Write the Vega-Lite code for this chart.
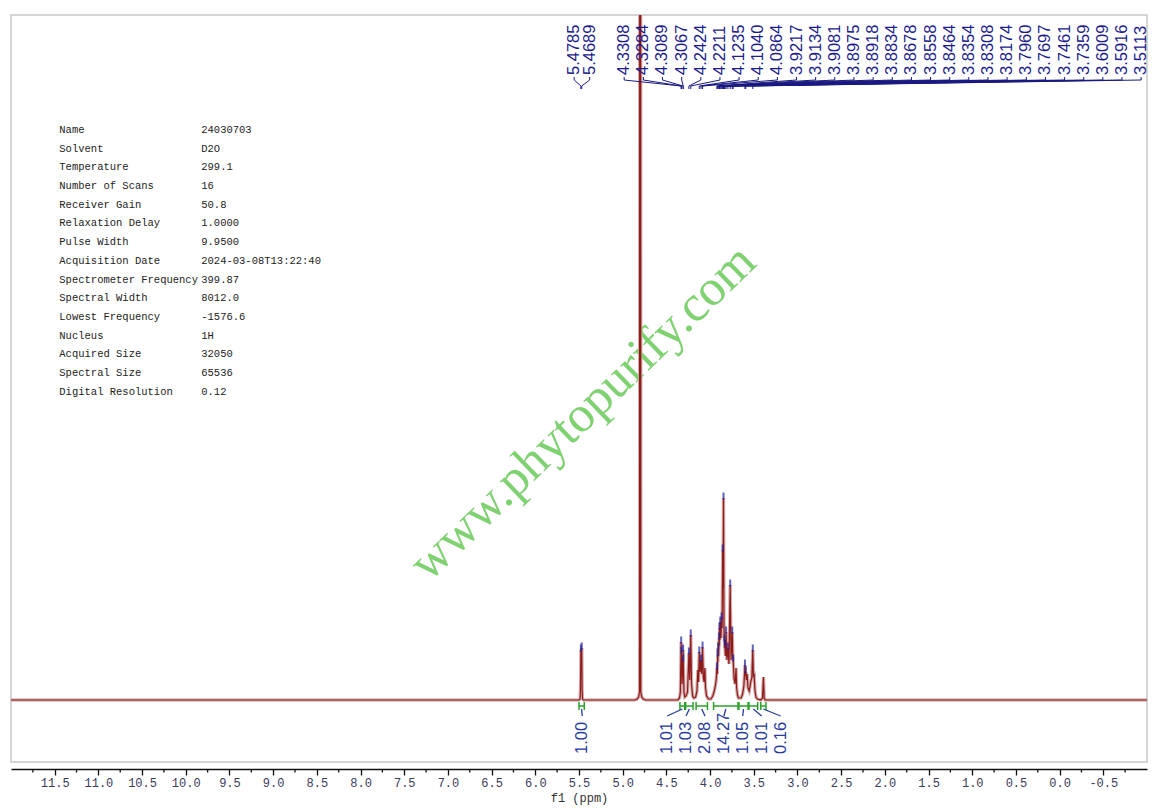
{
  "$schema": "https://vega.github.io/schema/vega-lite/v6.json",
  "width": 1136,
  "height": 747,
  "autosize": {"type": "none"},
  "padding": {"left": 11, "top": 15, "right": 13, "bottom": 49},
  "background": "white",
  "config": {
    "view": {"stroke": "#c8c8c8", "strokeWidth": 1.5}
  },
  "datasets": {
    "spec": [
      {"ppm": 12, "h": 0},
      {"ppm": 5.5, "h": 0}, {"ppm": 5.488, "h": 1}, {"ppm": 5.483, "h": 10}, {"ppm": 5.4785, "h": 50}, {"ppm": 5.4737, "h": 34}, {"ppm": 5.4689, "h": 52}, {"ppm": 5.4645, "h": 10}, {"ppm": 5.459, "h": 1}, {"ppm": 5.45, "h": 0},
      {"ppm": 4.86, "h": 0}, {"ppm": 4.835, "h": 1}, {"ppm": 4.818, "h": 3}, {"ppm": 4.807, "h": 8}, {"ppm": 4.8012, "h": 3000}, {"ppm": 4.7992, "h": 3000}, {"ppm": 4.793, "h": 8}, {"ppm": 4.782, "h": 3}, {"ppm": 4.765, "h": 1}, {"ppm": 4.74, "h": 0},
      {"ppm": 4.37, "h": 0}, {"ppm": 4.35, "h": 2}, {"ppm": 4.34, "h": 8}, {"ppm": 4.3308, "h": 58}, {"ppm": 4.3296, "h": 42}, {"ppm": 4.3284, "h": 48}, {"ppm": 4.32, "h": 16}, {"ppm": 4.3089, "h": 50}, {"ppm": 4.3078, "h": 36}, {"ppm": 4.3067, "h": 40}, {"ppm": 4.299, "h": 8}, {"ppm": 4.29, "h": 3},
      {"ppm": 4.275, "h": 4}, {"ppm": 4.258, "h": 8}, {"ppm": 4.2424, "h": 47}, {"ppm": 4.233, "h": 20}, {"ppm": 4.2211, "h": 65}, {"ppm": 4.212, "h": 16}, {"ppm": 4.2, "h": 4}, {"ppm": 4.185, "h": 2},
      {"ppm": 4.165, "h": 3}, {"ppm": 4.15, "h": 9}, {"ppm": 4.14, "h": 30}, {"ppm": 4.132, "h": 18}, {"ppm": 4.1235, "h": 48}, {"ppm": 4.114, "h": 28}, {"ppm": 4.104, "h": 40}, {"ppm": 4.095, "h": 26}, {"ppm": 4.0864, "h": 53}, {"ppm": 4.077, "h": 22}, {"ppm": 4.068, "h": 18}, {"ppm": 4.06, "h": 32}, {"ppm": 4.052, "h": 12}, {"ppm": 4.04, "h": 4}, {"ppm": 4.02, "h": 1},
      {"ppm": 3.99, "h": 1}, {"ppm": 3.97, "h": 4}, {"ppm": 3.955, "h": 8}, {"ppm": 3.94, "h": 14}, {"ppm": 3.93, "h": 20}, {"ppm": 3.9217, "h": 32}, {"ppm": 3.917, "h": 26}, {"ppm": 3.9134, "h": 45}, {"ppm": 3.911, "h": 38}, {"ppm": 3.9081, "h": 52}, {"ppm": 3.903, "h": 44}, {"ppm": 3.8975, "h": 62}, {"ppm": 3.895, "h": 54}, {"ppm": 3.8918, "h": 72}, {"ppm": 3.888, "h": 60}, {"ppm": 3.8834, "h": 78}, {"ppm": 3.876, "h": 62}, {"ppm": 3.8678, "h": 82}, {"ppm": 3.862, "h": 72}, {"ppm": 3.8558, "h": 150}, {"ppm": 3.851, "h": 112}, {"ppm": 3.8464, "h": 202}, {"ppm": 3.841, "h": 72}, {"ppm": 3.8354, "h": 60}, {"ppm": 3.833, "h": 52}, {"ppm": 3.8308, "h": 55}, {"ppm": 3.824, "h": 44}, {"ppm": 3.8174, "h": 68}, {"ppm": 3.807, "h": 40}, {"ppm": 3.796, "h": 52}, {"ppm": 3.784, "h": 36}, {"ppm": 3.7697, "h": 115}, {"ppm": 3.76, "h": 40}, {"ppm": 3.7461, "h": 68}, {"ppm": 3.741, "h": 46}, {"ppm": 3.7359, "h": 40}, {"ppm": 3.726, "h": 22}, {"ppm": 3.714, "h": 16}, {"ppm": 3.703, "h": 32}, {"ppm": 3.696, "h": 12}, {"ppm": 3.686, "h": 5}, {"ppm": 3.675, "h": 2},
      {"ppm": 3.645, "h": 2}, {"ppm": 3.628, "h": 6}, {"ppm": 3.613, "h": 14}, {"ppm": 3.6009, "h": 35}, {"ppm": 3.5962, "h": 24}, {"ppm": 3.5916, "h": 28}, {"ppm": 3.585, "h": 20}, {"ppm": 3.576, "h": 26}, {"ppm": 3.566, "h": 12}, {"ppm": 3.552, "h": 9}, {"ppm": 3.535, "h": 18}, {"ppm": 3.522, "h": 22}, {"ppm": 3.5113, "h": 50}, {"ppm": 3.504, "h": 24}, {"ppm": 3.495, "h": 25}, {"ppm": 3.487, "h": 10}, {"ppm": 3.475, "h": 3}, {"ppm": 3.46, "h": 1},
      {"ppm": 3.42, "h": 0}, {"ppm": 3.4, "h": 2}, {"ppm": 3.389, "h": 23}, {"ppm": 3.381, "h": 2}, {"ppm": 3.37, "h": 0},
      {"ppm": -1, "h": 0}
    ],
    "peaks": [
      {"label": "5.4785", "lx": 5.555, "px": 5.4785, "h": 50},
      {"label": "5.4689", "lx": 5.378, "px": 5.4689, "h": 52},
      {"label": "4.3308", "lx": 4.983, "px": 4.3308, "h": 58},
      {"label": "4.3284", "lx": 4.764, "px": 4.3284, "h": 48},
      {"label": "4.3089", "lx": 4.545, "px": 4.3089, "h": 50},
      {"label": "4.3067", "lx": 4.325, "px": 4.3067, "h": 40},
      {"label": "4.2424", "lx": 4.106, "px": 4.2424, "h": 47},
      {"label": "4.2211", "lx": 3.887, "px": 4.2211, "h": 65},
      {"label": "4.1235", "lx": 3.668, "px": 4.1235, "h": 48},
      {"label": "4.1040", "lx": 3.449, "px": 4.104, "h": 40},
      {"label": "4.0864", "lx": 3.23, "px": 4.0864, "h": 53},
      {"label": "3.9217", "lx": 3.011, "px": 3.9217, "h": 32},
      {"label": "3.9134", "lx": 2.792, "px": 3.9134, "h": 45},
      {"label": "3.9081", "lx": 2.573, "px": 3.9081, "h": 52},
      {"label": "3.8975", "lx": 2.353, "px": 3.8975, "h": 62},
      {"label": "3.8918", "lx": 2.134, "px": 3.8918, "h": 72},
      {"label": "3.8834", "lx": 1.915, "px": 3.8834, "h": 78},
      {"label": "3.8678", "lx": 1.696, "px": 3.8678, "h": 82},
      {"label": "3.8558", "lx": 1.477, "px": 3.8558, "h": 150},
      {"label": "3.8464", "lx": 1.258, "px": 3.8464, "h": 202},
      {"label": "3.8354", "lx": 1.039, "px": 3.8354, "h": 60},
      {"label": "3.8308", "lx": 0.82, "px": 3.8308, "h": 55},
      {"label": "3.8174", "lx": 0.601, "px": 3.8174, "h": 68},
      {"label": "3.7960", "lx": 0.381, "px": 3.796, "h": 52},
      {"label": "3.7697", "lx": 0.162, "px": 3.7697, "h": 115},
      {"label": "3.7461", "lx": -0.057, "px": 3.7461, "h": 68},
      {"label": "3.7359", "lx": -0.276, "px": 3.7359, "h": 40},
      {"label": "3.6009", "lx": -0.495, "px": 3.6009, "h": 35},
      {"label": "3.5916", "lx": -0.714, "px": 3.5916, "h": 28},
      {"label": "3.5113", "lx": -0.933, "px": 3.5113, "h": 50}
    ],
    "integrals": [
      {"v": "1.00", "a": 5.5, "b": 5.44, "m": 5.47, "lx": 5.463},
      {"v": "1.01", "a": 4.345, "b": 4.29, "m": 4.3175, "lx": 4.491},
      {"v": "1.03", "a": 4.28, "b": 4.195, "m": 4.2375, "lx": 4.275},
      {"v": "2.08", "a": 4.16, "b": 4.03, "m": 4.095, "lx": 4.058},
      {"v": "14.27", "a": 3.96, "b": 3.68, "m": 3.82, "lx": 3.842},
      {"v": "1.05", "a": 3.67, "b": 3.565, "m": 3.6175, "lx": 3.626},
      {"v": "1.01", "a": 3.555, "b": 3.455, "m": 3.505, "lx": 3.41},
      {"v": "0.16", "a": 3.42, "b": 3.36, "m": 3.39, "lx": 3.193}
    ],
    "minor": [
      {"ppm": 11.75}, {"ppm": 11.25}, {"ppm": 10.75}, {"ppm": 10.25}, {"ppm": 9.75}, {"ppm": 9.25}, {"ppm": 8.75}, {"ppm": 8.25}, {"ppm": 7.75}, {"ppm": 7.25}, {"ppm": 6.75}, {"ppm": 6.25}, {"ppm": 5.75}, {"ppm": 5.25}, {"ppm": 4.75}, {"ppm": 4.25}, {"ppm": 3.75}, {"ppm": 3.25}, {"ppm": 2.75}, {"ppm": 2.25}, {"ppm": 1.75}, {"ppm": 1.25}, {"ppm": 0.75}, {"ppm": 0.25}, {"ppm": -0.25}, {"ppm": -0.75}
    ],
    "params": [
      {"row": 0, "key": "Name", "val": "24030703"},
      {"row": 1, "key": "Solvent", "val": "D2O"},
      {"row": 2, "key": "Temperature", "val": "299.1"},
      {"row": 3, "key": "Number of Scans", "val": "16"},
      {"row": 4, "key": "Receiver Gain", "val": "50.8"},
      {"row": 5, "key": "Relaxation Delay", "val": "1.0000"},
      {"row": 6, "key": "Pulse Width", "val": "9.9500"},
      {"row": 7, "key": "Acquisition Date", "val": "2024-03-08T13:22:40"},
      {"row": 8, "key": "Spectrometer Frequency", "val": "399.87"},
      {"row": 9, "key": "Spectral Width", "val": "8012.0"},
      {"row": 10, "key": "Lowest Frequency", "val": "-1576.6"},
      {"row": 11, "key": "Nucleus", "val": "1H"},
      {"row": 12, "key": "Acquired Size", "val": "32050"},
      {"row": 13, "key": "Spectral Size", "val": "65536"},
      {"row": 14, "key": "Digital Resolution", "val": "0.12"}
    ]
  },
  "layer": [
    {
      "layer": [
        {
          "data": {"name": "spec"},
          "mark": {"type": "line", "color": "#d2a6a6", "strokeWidth": 3.2, "opacity": 0.85, "clip": true},
          "encoding": {
            "x": {
              "field": "ppm", "type": "quantitative",
              "scale": {"domain": [-1, 12], "reverse": true, "nice": false, "zero": false},
              "axis": {
                "values": [11.5, 11, 10.5, 10, 9.5, 9, 8.5, 8, 7.5, 7, 6.5, 6, 5.5, 5, 4.5, 4, 3.5, 3, 2.5, 2, 1.5, 1, 0.5, 0, -0.5],
                "offset": 7,
                "grid": false,
                "domainColor": "#111111",
                "domainWidth": 1.6,
                "tickColor": "#111111",
                "tickWidth": 1.3,
                "tickSize": 6,
                "labelExpr": "replace(format(datum.value, '.1f'), '−', '-')",
                "labelFont": "Liberation Mono",
                "labelFontSize": 12,
                "labelColor": "#3a3a5a",
                "labelPadding": 2,
                "labelFlush": false,
                "labelOverlap": false,
                "title": "f1 (ppm)",
                "titleFont": "Liberation Mono",
                "titleFontSize": 12,
                "titleFontWeight": "normal",
                "titleColor": "#333333",
                "titlePadding": 4
              }
            },
            "y": {"field": "h", "type": "quantitative", "scale": {"domain": [-62, 685], "nice": false, "zero": false}, "axis": null}
          }
        },
        {
          "data": {"values": [{"t": "www.phytopurify.com"}]},
          "mark": {"type": "text", "font": "Liberation Serif", "fontSize": 51, "angle": 316, "color": "#7fd172", "align": "center", "baseline": "middle"},
          "encoding": {
            "x": {"datum": 5.452, "type": "quantitative", "scale": {"domain": [-1, 12], "reverse": true, "nice": false, "zero": false}},
            "y": {"datum": 287, "type": "quantitative", "scale": {"domain": [-62, 685], "nice": false, "zero": false}},
            "text": {"field": "t"}
          }
        },
        {
          "data": {"name": "spec"},
          "mark": {"type": "line", "color": "#d2a6a6", "strokeWidth": 3.2, "opacity": 0.6, "clip": true},
          "encoding": {
            "x": {"field": "ppm", "type": "quantitative", "scale": {"domain": [-1, 12], "reverse": true, "nice": false, "zero": false}},
            "y": {"field": "h", "type": "quantitative", "scale": {"domain": [-62, 685], "nice": false, "zero": false}}
          }
        },
        {
          "data": {"name": "spec"},
          "mark": {"type": "line", "color": "#8e1a1a", "strokeWidth": 1.2, "clip": true},
          "encoding": {
            "x": {"field": "ppm", "type": "quantitative", "scale": {"domain": [-1, 12], "reverse": true, "nice": false, "zero": false}},
            "y": {"field": "h", "type": "quantitative", "scale": {"domain": [-62, 685], "nice": false, "zero": false}}
          }
        },
        {
          "data": {"name": "minor"},
          "mark": {"type": "rule", "color": "#111111", "strokeWidth": 1.3},
          "encoding": {
            "x": {"field": "ppm", "type": "quantitative", "scale": {"domain": [-1, 12], "reverse": true, "nice": false, "zero": false}},
            "y": {"datum": -69, "type": "quantitative", "scale": {"domain": [-62, 685], "nice": false, "zero": false}},
            "y2": {"datum": -72.5}
          }
        },
        {
          "data": {"name": "integrals"},
          "mark": {"type": "rule", "color": "#2aa22a", "strokeWidth": 1.5},
          "encoding": {
            "x": {"field": "a", "type": "quantitative", "scale": {"domain": [-1, 12], "reverse": true, "nice": false, "zero": false}},
            "x2": {"field": "b"},
            "y": {"datum": -6, "type": "quantitative", "scale": {"domain": [-62, 685], "nice": false, "zero": false}}
          }
        },
        {
          "data": {"name": "integrals"},
          "mark": {"type": "rule", "color": "#2aa22a", "strokeWidth": 1.5},
          "encoding": {
            "x": {"field": "a", "type": "quantitative", "scale": {"domain": [-1, 12], "reverse": true, "nice": false, "zero": false}},
            "y": {"datum": -2, "type": "quantitative", "scale": {"domain": [-62, 685], "nice": false, "zero": false}},
            "y2": {"datum": -10}
          }
        },
        {
          "data": {"name": "integrals"},
          "mark": {"type": "rule", "color": "#2aa22a", "strokeWidth": 1.5},
          "encoding": {
            "x": {"field": "b", "type": "quantitative", "scale": {"domain": [-1, 12], "reverse": true, "nice": false, "zero": false}},
            "y": {"datum": -2, "type": "quantitative", "scale": {"domain": [-62, 685], "nice": false, "zero": false}},
            "y2": {"datum": -10}
          }
        },
        {
          "data": {"name": "integrals"},
          "mark": {"type": "rule", "color": "#2a3a9a", "strokeWidth": 1.3},
          "encoding": {
            "x": {"field": "m", "type": "quantitative", "scale": {"domain": [-1, 12], "reverse": true, "nice": false, "zero": false}},
            "x2": {"field": "lx"},
            "y": {"datum": -9, "type": "quantitative", "scale": {"domain": [-62, 685], "nice": false, "zero": false}},
            "y2": {"datum": -16}
          }
        },
        {
          "data": {"name": "integrals"},
          "mark": {"type": "text", "font": "Liberation Sans", "fontSize": 16.5, "angle": 270, "align": "left", "baseline": "middle", "color": "#2a3a9a"},
          "encoding": {
            "x": {"field": "lx", "type": "quantitative", "scale": {"domain": [-1, 12], "reverse": true, "nice": false, "zero": false}},
            "y": {"datum": -54, "type": "quantitative", "scale": {"domain": [-62, 685], "nice": false, "zero": false}},
            "text": {"field": "v"}
          }
        },
        {
          "data": {"name": "peaks"},
          "mark": {"type": "rule", "color": "#1a1a80", "strokeWidth": 1},
          "encoding": {
            "x": {"field": "lx", "type": "quantitative", "scale": {"domain": [-1, 12], "reverse": true, "nice": false, "zero": false}},
            "y": {"datum": 623, "type": "quantitative", "scale": {"domain": [-62, 685], "nice": false, "zero": false}},
            "y2": {"datum": 620}
          }
        },
        {
          "data": {"name": "peaks"},
          "mark": {"type": "rule", "color": "#1a1a80", "strokeWidth": 1},
          "encoding": {
            "x": {"field": "lx", "type": "quantitative", "scale": {"domain": [-1, 12], "reverse": true, "nice": false, "zero": false}},
            "x2": {"field": "px"},
            "y": {"datum": 620, "type": "quantitative", "scale": {"domain": [-62, 685], "nice": false, "zero": false}},
            "y2": {"datum": 614}
          }
        },
        {
          "data": {"name": "peaks"},
          "mark": {"type": "rule", "color": "#1a1a80", "strokeWidth": 1},
          "encoding": {
            "x": {"field": "px", "type": "quantitative", "scale": {"domain": [-1, 12], "reverse": true, "nice": false, "zero": false}},
            "y": {"datum": 614, "type": "quantitative", "scale": {"domain": [-62, 685], "nice": false, "zero": false}},
            "y2": {"datum": 611}
          }
        },
        {
          "data": {"name": "peaks"},
          "mark": {"type": "tick", "orient": "vertical", "size": 7, "thickness": 2, "color": "#1f1f9c", "yOffset": -2},
          "encoding": {
            "x": {"field": "px", "type": "quantitative", "scale": {"domain": [-1, 12], "reverse": true, "nice": false, "zero": false}},
            "y": {"field": "h", "type": "quantitative", "scale": {"domain": [-62, 685], "nice": false, "zero": false}}
          }
        },
        {
          "data": {"name": "peaks"},
          "mark": {"type": "text", "font": "Liberation Sans", "fontSize": 16.5, "angle": 270, "align": "left", "baseline": "middle", "color": "#1c1c8c", "clip": true},
          "encoding": {
            "x": {"field": "lx", "type": "quantitative", "scale": {"domain": [-1, 12], "reverse": true, "nice": false, "zero": false}},
            "y": {"datum": 625, "type": "quantitative", "scale": {"domain": [-62, 685], "nice": false, "zero": false}},
            "text": {"field": "label"}
          }
        }
      ]
    },
    {
      "data": {"name": "params"},
      "layer": [
        {
          "mark": {"type": "text", "font": "Liberation Mono", "fontSize": 10.5, "align": "left", "baseline": "middle", "color": "#222222"},
          "encoding": {
            "x": {"datum": 11.447, "type": "quantitative", "scale": {"domain": [-1, 12], "reverse": true, "nice": false, "zero": false}},
            "y": {"field": "row", "type": "quantitative", "scale": {"domain": [-6.15, 33.8], "reverse": true, "nice": false, "zero": false}, "axis": null},
            "text": {"field": "key"}
          }
        },
        {
          "mark": {"type": "text", "font": "Liberation Mono", "fontSize": 10.5, "align": "left", "baseline": "middle", "color": "#222222"},
          "encoding": {
            "x": {"datum": 9.823, "type": "quantitative", "scale": {"domain": [-1, 12], "reverse": true, "nice": false, "zero": false}},
            "y": {"field": "row", "type": "quantitative", "scale": {"domain": [-6.15, 33.8], "reverse": true, "nice": false, "zero": false}, "axis": null},
            "text": {"field": "val"}
          }
        }
      ]
    }
  ],
  "resolve": {"scale": {"y": "independent"}, "axis": {"y": "independent"}}
}
